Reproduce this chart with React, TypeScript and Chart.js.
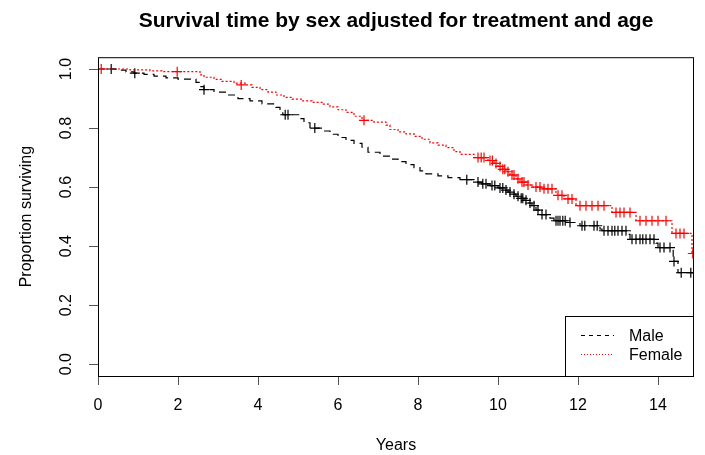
import React, { useEffect, useRef } from 'react';
import { Chart, registerables } from 'chart.js';

Chart.register(...registerables);

const TITLE = 'Survival time by sex adjusted for treatment and age';
const X_LABEL = 'Years';
const Y_LABEL = 'Proportion surviving';
const X_TICKS = [0, 2, 4, 6, 8, 10, 12, 14];
const Y_TICKS = [0, 0.2, 0.4, 0.6, 0.8, 1.0];
const SERIES_NAMES = ['Male', 'Female'];

// Male: step curve (time, survival)
const maleTimes = [0, 0.45, 0.7, 0.9, 1.15, 1.4, 1.7, 2.0, 2.45, 2.55, 2.65, 2.9, 3.2, 3.5, 3.8, 4.1, 4.45, 4.55, 4.62, 5.05, 5.15, 5.3, 5.6, 5.8, 6.0, 6.2, 6.4, 6.6, 6.75, 7.05, 7.3, 7.5, 7.7, 7.9, 8.05, 8.2, 8.5, 8.75, 9.05, 9.4, 9.6, 9.8, 10.0, 10.15, 10.25, 10.35, 10.45, 10.55, 10.65, 10.75, 10.85, 10.95, 11.05, 11.3, 11.4, 11.7, 12.05, 12.55, 12.6, 13.25, 13.3, 13.95, 14.0, 14.38, 14.5, 14.9];
const maleSurv = [1.0, 0.996, 0.99, 0.986, 0.982, 0.976, 0.97, 0.966, 0.955, 0.94, 0.93, 0.922, 0.912, 0.9, 0.892, 0.882, 0.87, 0.855, 0.845, 0.832, 0.818, 0.8, 0.79, 0.779, 0.768, 0.758, 0.748, 0.735, 0.718, 0.705, 0.695, 0.686, 0.676, 0.666, 0.655, 0.645, 0.638, 0.632, 0.625, 0.617, 0.611, 0.605, 0.597, 0.59, 0.583, 0.576, 0.569, 0.562, 0.555, 0.546, 0.537, 0.522, 0.507, 0.495, 0.486, 0.48, 0.469, 0.458, 0.452, 0.44, 0.423, 0.41, 0.395, 0.348, 0.31, 0.31];
// Male censor marks
const maleCensorTimes = [0.33, 0.92, 2.65, 4.68, 4.75, 5.42, 9.22, 9.5, 9.62, 9.7, 9.85, 9.92, 10.05, 10.12, 10.2, 10.3, 10.4, 10.5, 10.58, 10.62, 10.7, 10.8, 10.9, 11.0, 11.1, 11.2, 11.45, 11.5, 11.55, 11.62, 11.68, 11.8, 12.1, 12.17, 12.4, 12.48, 12.65, 12.75, 12.85, 12.92, 13.0, 13.1, 13.2, 13.35, 13.45, 13.55, 13.62, 13.7, 13.8, 13.9, 14.05, 14.15, 14.3, 14.4, 14.58, 14.82, 14.92];
const maleCensorSurv = [1.0, 0.986, 0.93, 0.845, 0.845, 0.8, 0.625, 0.617, 0.611, 0.611, 0.605, 0.605, 0.597, 0.597, 0.59, 0.583, 0.576, 0.569, 0.562, 0.562, 0.555, 0.546, 0.537, 0.522, 0.507, 0.507, 0.486, 0.486, 0.486, 0.486, 0.486, 0.48, 0.469, 0.469, 0.469, 0.469, 0.452, 0.452, 0.452, 0.452, 0.452, 0.452, 0.452, 0.423, 0.423, 0.423, 0.423, 0.423, 0.423, 0.423, 0.395, 0.395, 0.395, 0.348, 0.31, 0.31, 0.31];

// Female: step curve (time, survival)
const femaleTimes = [0, 0.8, 1.3, 1.6, 2.55, 2.65, 2.9, 3.1, 3.4, 3.7, 3.85, 4.05, 4.25, 4.45, 4.65, 4.85, 5.1, 5.35, 5.6, 5.8, 6.0, 6.2, 6.4, 6.6, 6.9, 7.2, 7.3, 7.5, 7.7, 7.9, 8.1, 8.3, 8.5, 8.7, 8.9, 9.05, 9.4, 9.75, 9.9, 10.0, 10.1, 10.2, 10.3, 10.45, 10.55, 10.7, 10.85, 11.1, 11.45, 11.65, 11.95, 12.85, 13.45, 14.35, 14.85, 14.9];
const femaleSurv = [1.0, 0.997, 0.994, 0.991, 0.98, 0.972, 0.965, 0.958, 0.952, 0.946, 0.938, 0.93, 0.922, 0.912, 0.904, 0.898, 0.892, 0.887, 0.881, 0.872, 0.862, 0.853, 0.84, 0.826, 0.82, 0.81, 0.795, 0.787, 0.78, 0.772, 0.762, 0.75, 0.742, 0.734, 0.72, 0.711, 0.70, 0.69, 0.68, 0.67, 0.66, 0.652, 0.641, 0.628, 0.617, 0.607, 0.60, 0.594, 0.572, 0.56, 0.537, 0.514, 0.486, 0.443, 0.375, 0.375];
// Female censor marks
const femaleCensorTimes = [0.08, 1.98, 3.58, 6.65, 9.5, 9.58, 9.65, 9.8, 9.86, 9.95, 10.05, 10.12, 10.17, 10.25, 10.35, 10.4, 10.5, 10.6, 10.65, 10.75, 10.95, 11.05, 11.15, 11.25, 11.35, 11.5, 11.6, 11.75, 11.85, 12.05, 12.2, 12.35, 12.5, 12.65, 12.95, 13.05, 13.15, 13.3, 13.55, 13.7, 13.85, 14.0, 14.2, 14.45, 14.55, 14.65, 14.87];
const femaleCensorSurv = [1.0, 0.991, 0.946, 0.826, 0.70, 0.70, 0.70, 0.69, 0.69, 0.68, 0.67, 0.66, 0.66, 0.652, 0.641, 0.641, 0.628, 0.617, 0.617, 0.607, 0.60, 0.60, 0.594, 0.594, 0.594, 0.572, 0.572, 0.56, 0.56, 0.537, 0.537, 0.537, 0.537, 0.537, 0.514, 0.514, 0.514, 0.514, 0.486, 0.486, 0.486, 0.486, 0.486, 0.443, 0.443, 0.443, 0.375];

const FONT = "'Liberation Sans', Arial, Helvetica, sans-serif";
const MALE_COLOR = '#000000';
const FEMALE_COLOR = '#ff0000';

const toPoints = (xs: number[], ys: number[]) => xs.map((x, i) => ({ x, y: ys[i] }));

const boxPlugin = {
  id: 'rBox',
  afterDatasetsDraw(chart: any) {
    const { ctx, chartArea } = chart;
    ctx.save();
    ctx.strokeStyle = '#000';
    ctx.lineWidth = 1;
    ctx.setLineDash([]);
    ctx.strokeRect(chartArea.left + 0.5, chartArea.top + 0.5, chartArea.right - chartArea.left - 1, chartArea.bottom - chartArea.top);
    ctx.restore();
  },
};

const legendPlugin = {
  id: 'rLegend',
  afterDraw(chart: any) {
    const { ctx, chartArea } = chart;
    const w = 129;
    const h = 60;
    const x0 = Math.round(chartArea.right - w);
    const y0 = Math.round(chartArea.bottom - h);
    ctx.save();
    ctx.fillStyle = '#fff';
    ctx.fillRect(x0, y0, w, h);
    ctx.strokeStyle = '#000';
    ctx.lineWidth = 1;
    ctx.setLineDash([]);
    ctx.strokeRect(x0 + 0.5, y0 + 0.5, w - 1, h);
    const items = [
      { label: SERIES_NAMES[0], color: MALE_COLOR, on: 4, off: 4 },
      { label: SERIES_NAMES[1], color: FEMALE_COLOR, on: 1, off: 2 },
    ];
    items.forEach((it, i) => {
      const y = y0 + 19 + i * 19;
      ctx.fillStyle = it.color;
      for (let x = x0 + 16; x < x0 + 49; x += it.on + it.off) {
        ctx.fillRect(x, y, Math.min(it.on, x0 + 49 - x), 1);
      }
      ctx.fillStyle = '#000';
      ctx.font = `16px ${FONT}`;
      ctx.textBaseline = 'middle';
      ctx.textAlign = 'left';
      ctx.fillText(it.label, x0 + 64, y + 2);
    });
    ctx.restore();
  },
};

export default function App() {
  const ref = useRef<HTMLCanvasElement | null>(null);

  useEffect(() => {
    if (!ref.current) return;
    const cross = {
      showLine: false,
      pointStyle: 'cross',
      pointRadius: 5,
      pointBorderWidth: 1.2,
      pointHoverRadius: 5,
    };
    const chart = new Chart(ref.current, {
      type: 'line',
      data: {
        datasets: [
          {
            label: SERIES_NAMES[1] + ' censored',
            data: toPoints(femaleCensorTimes, femaleCensorSurv),
            borderColor: FEMALE_COLOR,
            backgroundColor: FEMALE_COLOR,
            pointBorderColor: FEMALE_COLOR,
            ...cross,
          } as any,
          {
            label: SERIES_NAMES[1],
            data: toPoints(femaleTimes, femaleSurv),
            borderColor: FEMALE_COLOR,
            borderWidth: 1.2,
            borderDash: [2, 2],
            stepped: 'before',
            pointRadius: 0,
            fill: false,
          } as any,
          {
            label: SERIES_NAMES[0] + ' censored',
            data: toPoints(maleCensorTimes, maleCensorSurv),
            borderColor: MALE_COLOR,
            backgroundColor: MALE_COLOR,
            pointBorderColor: MALE_COLOR,
            ...cross,
          } as any,
          {
            label: SERIES_NAMES[0],
            data: toPoints(maleTimes, maleSurv),
            borderColor: MALE_COLOR,
            borderWidth: 1.2,
            borderDash: [7, 5],
            stepped: 'before',
            pointRadius: 0,
            fill: false,
          } as any,
        ],
      },
      options: {
        responsive: false,
        animation: false,
        devicePixelRatio: 1,
        layout: { padding: { left: 0, top: 0, right: 11, bottom: 0 } },
        plugins: {
          legend: { display: false },
          tooltip: { enabled: false },
          title: {
            display: true,
            text: TITLE,
            fullSize: false,
            color: '#000',
            font: { family: FONT, size: 21, weight: 'bold' },
            padding: { top: 9, bottom: 23 },
          },
        },
        scales: {
          x: {
            type: 'linear',
            min: 0,
            max: 14.9,
            afterFit: (s: any) => { s.height = 79; },
            afterBuildTicks: (s: any) => { s.ticks = X_TICKS.map((v) => ({ value: v })); },
            grid: { display: true, drawOnChartArea: false, drawTicks: true, tickLength: 9, tickColor: '#555' },
            border: { display: false },
            ticks: {
              color: '#000',
              font: { family: FONT, size: 16 },
              padding: 11,
              maxRotation: 0,
              minRotation: 0,
              autoSkip: false,
              callback: (v: any) => String(v),
            },
            title: {
              display: true,
              text: X_LABEL,
              color: '#000',
              font: { family: FONT, size: 16 },
              padding: { top: 0, bottom: 0 },
            },
          },
          y: {
            type: 'linear',
            min: -0.04,
            max: 1.04,
            afterFit: (s: any) => { s.width = 98; },
            afterBuildTicks: (s: any) => { s.ticks = Y_TICKS.map((v) => ({ value: v })); },
            grid: { display: true, drawOnChartArea: false, drawTicks: true, tickLength: 9, tickColor: '#555' },
            border: { display: false },
            ticks: {
              color: '#000',
              font: { family: FONT, size: 16 },
              padding: 11,
              minRotation: 90,
              maxRotation: 90,
              crossAlign: 'center',
              autoSkip: false,
              callback: (v: any) => Number(v).toFixed(1),
            },
            title: {
              display: true,
              text: Y_LABEL,
              color: '#000',
              font: { family: FONT, size: 16 },
              padding: { top: 17, bottom: 0 },
            },
          },
        },
      },
      plugins: [boxPlugin, legendPlugin],
    } as any);
    return () => chart.destroy();
  }, []);

  return (
    <div style={{ position: 'absolute', left: 0, top: 0, width: 705, height: 455, background: '#fff' }}>
      <canvas ref={ref} width={705} height={455} style={{ display: 'block' }} />
    </div>
  );
}
